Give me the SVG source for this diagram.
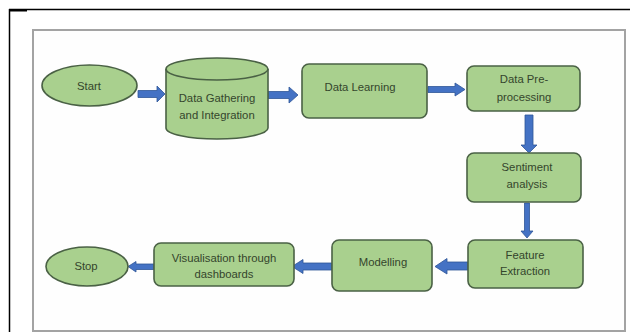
<svg xmlns="http://www.w3.org/2000/svg" width="630" height="332" viewBox="0 0 630 332">
<style>
.n{fill:#a9d08e;stroke:#4a6145;stroke-width:1.6}
.t{font-family:"Liberation Sans",Arial,sans-serif;font-size:11.3px;fill:#34452c;text-anchor:middle}
.a{fill:#4472c4;stroke:#2f5597;stroke-width:0.8}
</style>
<rect width="630" height="332" fill="#ffffff"/>
<g id="frame">
<line x1="9" y1="9.5" x2="630" y2="9.5" stroke="#000" stroke-width="1.5"/>
<line x1="9.5" y1="9" x2="9.5" y2="332" stroke="#000" stroke-width="1.5"/>
<rect x="9" y="9" width="18" height="2.5" fill="#000"/>
<rect x="33" y="30" width="592" height="301" fill="#fefefe" stroke="#a3a3a3" stroke-width="2"/>
</g>
<g id="connectors">
<polygon class="a" points="138,90.5 157,90.5 157,86 165,94 157,102 157,97.5 138,97.5"/>
<polygon class="a" points="268,91.5 289,91.5 289,87 298,95 289,103 289,98.5 268,98.5"/>
<polygon class="a" points="428,86.5 455,86.5 455,83 465,89.5 455,96 455,92.5 428,92.5"/>
<polygon class="a" points="525,115 533,115 533,145 537,145 529,153 521,145 525,145"/>
<polygon class="a" points="524.5,203 529.5,203 529.5,231 533,231 527,238 521,231 524.5,231"/>
<polygon class="a" points="468,262 447,262 447,258.5 435,266.5 447,274 447,270 468,270"/>
<polygon class="a" points="332,263 303,263 303,259.5 292,266.5 303,273.5 303,270 332,270"/>
<polygon class="a" points="154,264 136,264 136,261.5 128,266.5 136,272 136,269.5 154,269.5"/>
</g>
<g id="start">
<ellipse class="n" cx="89.5" cy="85.5" rx="47.5" ry="20.5"/>
<text class="t" x="89" y="90">Start</text>
</g>
<g id="gather">
<path class="n" d="M166,69 A51,11 0 0 1 268,69 L268,128 A51,11 0 0 1 166,128 Z"/>
<path d="M166,69 A51,11 0 0 0 268,69" fill="none" stroke="#4a6145" stroke-width="1.6"/>
<text class="t" x="217" y="102">Data Gathering</text>
<text class="t" x="217" y="119">and Integration</text>
</g>
<g id="learning">
<rect class="n" x="302" y="64" width="125" height="54" rx="7"/>
<text class="t" x="360" y="91">Data Learning</text>
</g>
<g id="preproc">
<rect class="n" x="467" y="66" width="113" height="45" rx="7"/>
<text class="t" x="524" y="83">Data Pre-</text>
<text class="t" x="524" y="101">processing</text>
</g>
<g id="sentiment">
<rect class="n" x="467" y="153" width="114" height="49" rx="7"/>
<text class="t" x="527" y="171">Sentiment</text>
<text class="t" x="527" y="188">analysis</text>
</g>
<g id="feature">
<rect class="n" x="468" y="240" width="115" height="48" rx="7"/>
<text class="t" x="525" y="259">Feature</text>
<text class="t" x="525" y="275">Extraction</text>
</g>
<g id="modelling">
<rect class="n" x="332" y="240" width="100" height="51" rx="7"/>
<text class="t" x="383" y="266">Modelling</text>
</g>
<g id="visual">
<rect class="n" x="154" y="243" width="140" height="43" rx="7"/>
<text class="t" x="224" y="262">Visualisation through</text>
<text class="t" x="224" y="278">dashboards</text>
</g>
<g id="stop">
<ellipse class="n" cx="87" cy="266.5" rx="41" ry="19.5"/>
<text class="t" x="86" y="270">Stop</text>
</g>
</svg>
